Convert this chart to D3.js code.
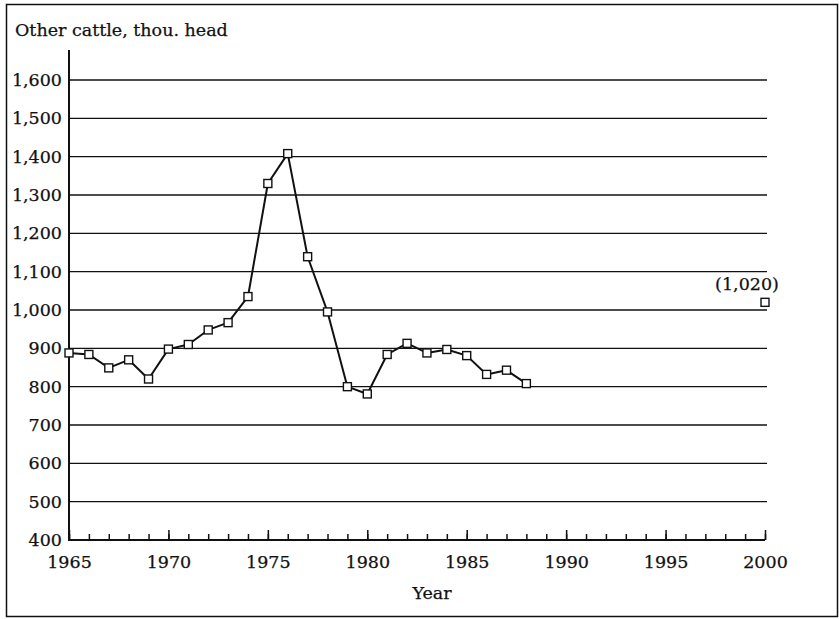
<!DOCTYPE html>
<html><head><meta charset="utf-8">
<script src="https://cdn.jsdelivr.net/npm/d3@7"></script>
<style>body{margin:0;background:#fff} svg{display:block}</style>
</head><body>
<svg id="c" width="839" height="619"></svg>
<script>
const years = [1965,1966,1967,1968,1969,1970,1971,1972,1973,1974,1975,1976,1977,1978,1979,1980,1981,1982,1983,1984,1985,1986,1987,1988];
const values = [888,884,849,870,820,898,910,948,967,1035,1330,1408,1139,995,800,781,884,913,888,897,881,832,843,808];
const projYears = [2000];
const projValues = [1020];
const projLabels = ["(1,020)"];
const yTickValues = [400,500,600,700,800,900,1000,1100,1200,1300,1400,1500,1600];
const xLabelYears = [1965,1970,1975,1980,1985,1990,1995,2000];
const yTitle = "Other cattle, thou. head";
const xTitle = "Year";

const FONT = "DejaVu Serif";
const FS = 17.5;
const INK = "#111";
const svg = d3.select("#c");

const x = d3.scaleLinear().domain([1965, 2000]).range([69, 765]);
const y = d3.scaleLinear().domain([400, 1600]).range([540, 80]);

function styleText(sel) {
  sel.attr("font-family", FONT).attr("font-size", FS).attr("fill", INK)
     .attr("stroke", INK).attr("stroke-width", 0.25);
}

// outer frame
svg.append("rect").attr("x", 6.5).attr("y", 4.5).attr("width", 831).attr("height", 612)
  .attr("fill", "none").attr("stroke", INK).attr("stroke-width", 1.5);

// title
svg.append("text").attr("x", 15).attr("y", 36).text(yTitle).call(styleText);

// gridlines
svg.append("g").selectAll("line").data(yTickValues.filter(v => v > 400)).join("line")
  .attr("x1", x(1965)).attr("x2", x(2000) + 2)
  .attr("y1", d => y(d)).attr("y2", d => y(d))
  .attr("stroke", INK).attr("stroke-width", 1.3);

// y axis
const yAxis = d3.axisLeft(y).tickValues(yTickValues).tickSize(0).tickPadding(7)
  .tickFormat(d3.format(","));
const gy = svg.append("g").attr("transform", `translate(${x(1965)},0)`).call(yAxis);
gy.select(".domain").remove();
gy.selectAll("text").call(styleText);
svg.append("line").attr("x1", x(1965)).attr("x2", x(1965)).attr("y1", 50).attr("y2", y(400) + 1)
  .attr("stroke", INK).attr("stroke-width", 2);

// x axis: minor ticks
const gxMinor = svg.append("g").attr("transform", `translate(0,${y(400)})`)
  .call(d3.axisBottom(x).ticks(35).tickSize(-6).tickSizeOuter(0).tickFormat(""));
gxMinor.select(".domain").remove();
gxMinor.selectAll("line").attr("stroke", INK).attr("stroke-width", 1.5);
// major ticks + labels
const gx = svg.append("g").attr("transform", `translate(0,${y(400)})`)
  .call(d3.axisBottom(x).tickValues(xLabelYears).tickSize(-10).tickSizeOuter(0).tickPadding(15.5).tickFormat(d3.format("d")));
gx.select(".domain").remove();
gx.selectAll("line").attr("stroke", INK).attr("stroke-width", 1.5);
gx.selectAll("text").call(styleText);
svg.append("line").attr("x1", x(1965)).attr("x2", x(2000)).attr("y1", y(400)).attr("y2", y(400))
  .attr("stroke", INK).attr("stroke-width", 2);

svg.append("text").attr("x", 432).attr("y", 599).attr("text-anchor", "middle").text(xTitle).call(styleText);

// data line
const pts = years.map((yr, i) => [yr, values[i]]);
svg.append("path").datum(pts)
  .attr("d", d3.line().x(d => x(d[0])).y(d => y(d[1])))
  .attr("fill", "none").attr("stroke", INK).attr("stroke-width", 2).attr("stroke-linejoin", "round");

const S = 8;
svg.append("g").selectAll("rect").data(pts).join("rect")
  .attr("x", d => x(d[0]) - S / 2).attr("y", d => y(d[1]) - S / 2)
  .attr("width", S).attr("height", S)
  .attr("fill", "#fff").attr("stroke", INK).attr("stroke-width", 1.4);

// projection point
const proj = projYears.map((yr, i) => [yr, projValues[i], projLabels[i]]);
svg.append("g").selectAll("rect").data(proj).join("rect")
  .attr("x", d => x(d[0]) - S / 2).attr("y", d => y(d[1]) - S / 2)
  .attr("width", S).attr("height", S)
  .attr("fill", "#fff").attr("stroke", INK).attr("stroke-width", 1.4);
svg.append("g").selectAll("text").data(proj).join("text")
  .attr("x", d => x(d[0]) - 18).attr("y", d => y(d[1]) - 12)
  .attr("text-anchor", "middle").text(d => d[2]).call(styleText);
</script>
</body></html>
